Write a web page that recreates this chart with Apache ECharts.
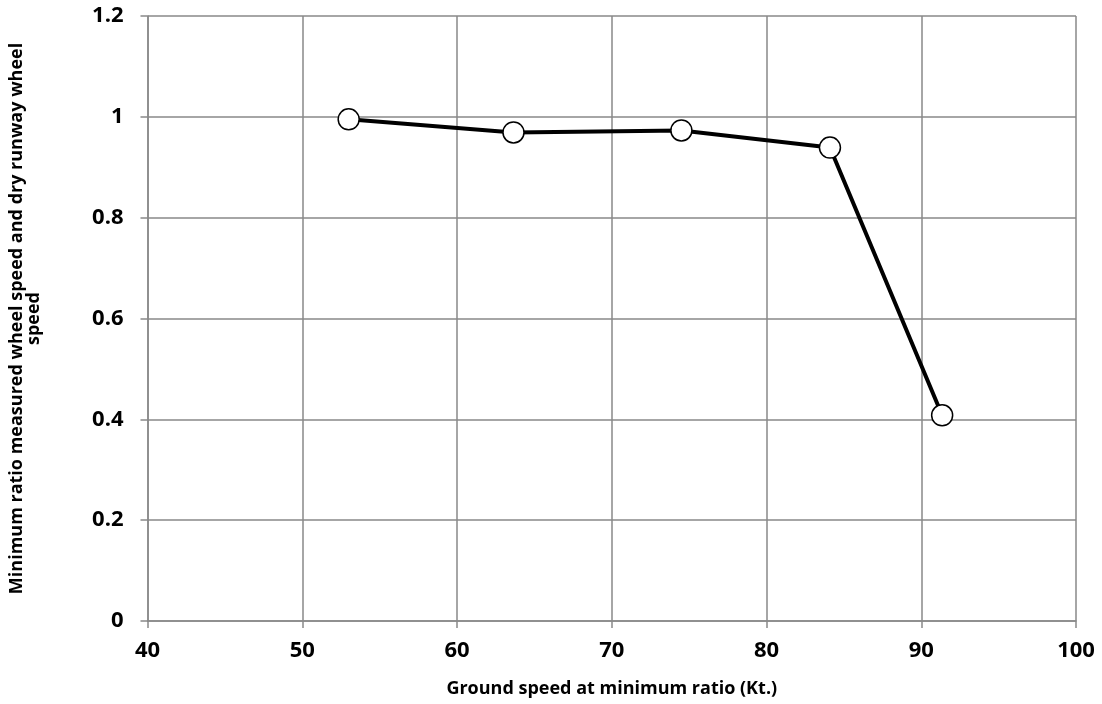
<!DOCTYPE html>
<html>
<head>
<meta charset="utf-8">
<script src="https://cdn.jsdelivr.net/npm/echarts@6/dist/echarts.min.js"></script>
<style>
html,body{margin:0;padding:0;background:#fff;}
#chart{width:1102px;height:704px;}
</style>
</head>
<body>
<div id="chart"></div>
<script>
const groundSpeed = [53.0, 63.65, 74.5, 84.1, 91.35];
const minRatio = [0.995, 0.969, 0.973, 0.939, 0.408];
const xTitle = 'Ground speed at minimum ratio (Kt.)';
const yTitle = 'Minimum ratio measured wheel speed and dry runway wheel\nspeed';

const font = '"Open Sans", "DejaVu Sans", sans-serif';
const chart = echarts.init(document.getElementById('chart'), null, {renderer: 'canvas'});
chart.setOption({
  animation: false,
  backgroundColor: '#fff',
  grid: {left: 147, right: 26, top: 16, bottom: 83},
  xAxis: {
    type: 'value', min: 40, max: 100, interval: 10,
    name: xTitle, nameLocation: 'middle', nameGap: 59,
    nameTextStyle: {fontFamily: font, fontWeight: 'bold', fontSize: 18, color: '#000'},
    axisLine: {show: true, onZero: false, lineStyle: {color: '#898989', width: 1.5}},
    axisTick: {show: true, length: 7, lineStyle: {color: '#898989', width: 1.5}},
    axisLabel: {fontFamily: font, fontWeight: 'bold', fontSize: 22, color: '#000', margin: 19},
    splitLine: {show: true, lineStyle: {color: '#898989', width: 1.5}}
  },
  yAxis: {
    type: 'value', min: 0, max: 1.2, interval: 0.2,
    name: yTitle, nameLocation: 'middle', nameGap: 105, nameRotate: 90,
    nameTextStyle: {fontFamily: font, fontWeight: 'bold', fontSize: 18, color: '#000', lineHeight: 17, align: 'center'},
    axisLine: {show: true, lineStyle: {color: '#898989', width: 1.5}},
    axisTick: {show: true, length: 7, lineStyle: {color: '#898989', width: 1.5}},
    axisLabel: {fontFamily: font, fontWeight: 'bold', fontSize: 22, color: '#000', margin: 24,
      formatter: v => String(Math.round(v * 10) / 10)},
    splitLine: {show: true, lineStyle: {color: '#898989', width: 1.5}}
  },
  series: [{
    type: 'line',
    data: groundSpeed.map((x, i) => [x, minRatio[i]]),
    symbol: 'circle', symbolSize: 21,
    lineStyle: {color: '#000', width: 4},
    itemStyle: {color: '#fff', borderColor: '#000', borderWidth: 1.5},
    z: 5
  }]
});
</script>
</body>
</html>
